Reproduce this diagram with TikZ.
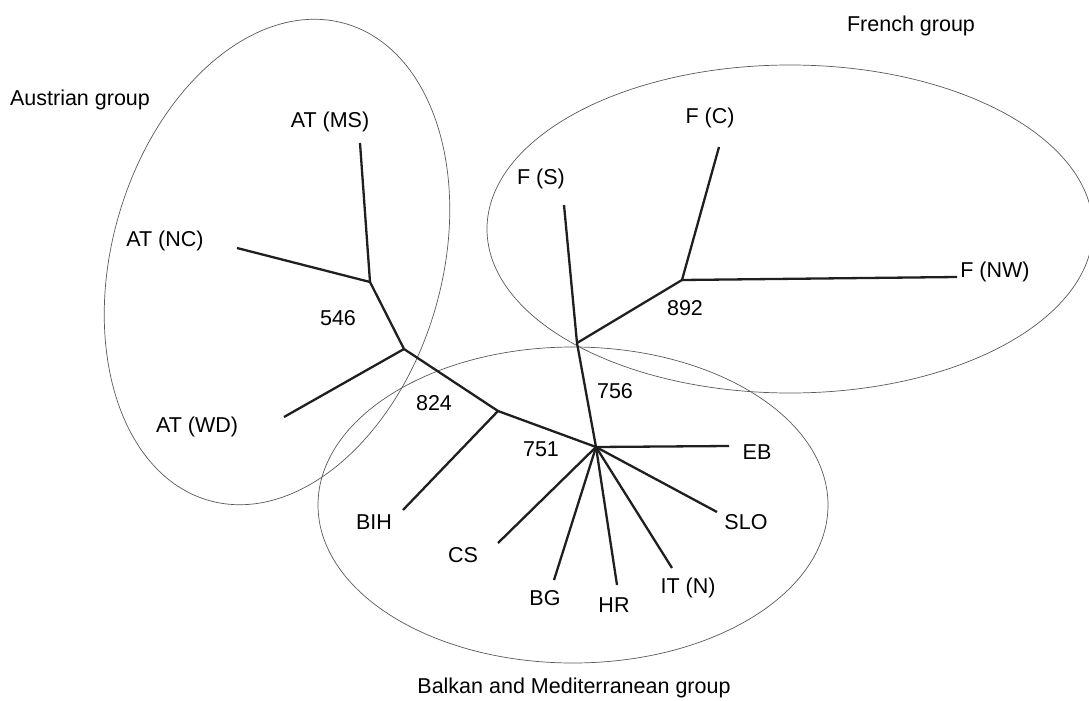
\documentclass[tikz,border=0pt]{standalone}
\usepackage{fontspec}
\setmainfont{Liberation Sans}
\begin{document}
\begin{tikzpicture}[x=1pt,y=-1pt,
  lbl/.style={inner sep=0pt,font=\fontsize{21.5}{25}\selectfont},
  branch/.style={line width=2.3pt,black!88},
  grp/.style={line width=0.7pt,black!65}]
\useasboundingbox (0,0) rectangle (1089,701);
% group outlines
\draw[grp,rotate around={-16:(277,262)}] (277,262) ellipse [x radius=165pt,y radius=248pt];
\draw[grp] (790,229) ellipse [x radius=303pt,y radius=164pt];
\draw[grp] (573,505) ellipse [x radius=255pt,y radius=158pt];
% group labels
\node[lbl] (gaus) at (80,100) {Austrian group};
\node[lbl] (gfr) at (911,26) {French group};
\node[lbl] (gbal) at (574,688) {Balkan and Mediterranean group};
% internal vertices
\coordinate (A) at (370,282);
\coordinate (B) at (404,349);
\coordinate (C) at (498,411);
\coordinate (D) at (596,447);
\coordinate (E) at (577,343);
\coordinate (G) at (682,280);
% leaf ends
\coordinate (ms) at (360,143);
\coordinate (nc) at (237,248);
\coordinate (wd) at (284,417);
\coordinate (bih) at (403,510);
\coordinate (cs) at (498,543);
\coordinate (bg) at (554,580);
\coordinate (hr) at (617,585);
\coordinate (it) at (672,568);
\coordinate (slo) at (717,512);
\coordinate (eb) at (729,446);
\coordinate (fs) at (564,205);
\coordinate (fc) at (719,147);
\coordinate (fnw) at (957,277);
% leaf labels
\node[lbl] (Lms) at (330,122) {AT (MS)};
\node[lbl] (Lnc) at (165,241) {AT (NC)};
\node[lbl] (Lwd) at (197,427) {AT (WD)};
\node[lbl] (Lbih) at (374,522) {BIH};
\node[lbl] (Lcs) at (463,555) {CS};
\node[lbl] (Lbg) at (545,598) {BG};
\node[lbl] (Lhr) at (614,605) {HR};
\node[lbl] (Lit) at (688,588) {IT (N)};
\node[lbl] (Lslo) at (746,522) {SLO};
\node[lbl] (Leb) at (757,452) {EB};
\node[lbl] (Lfs) at (541,179) {F (S)};
\node[lbl] (Lfc) at (710,118) {F (C)};
\node[lbl] (Lfnw) at (995,272) {F (NW)};
% branch values
\node[lbl] (v546) at (338,318) {546};
\node[lbl] (v824) at (434,403) {824};
\node[lbl] (v751) at (541,449) {751};
\node[lbl] (v756) at (615,391) {756};
\node[lbl] (v892) at (685,308) {892};
% tree
\draw[branch] (ms) -- (A);
\draw[branch] (nc) -- (A);
\draw[branch] (A) -- (B);
\draw[branch] (wd) -- (B);
\draw[branch] (B) -- (C);
\draw[branch] (bih) -- (C);
\draw[branch] (C) -- (D);
\draw[branch] (D) -- (cs);
\draw[branch] (D) -- (bg);
\draw[branch] (D) -- (hr);
\draw[branch] (D) -- (it);
\draw[branch] (D) -- (slo);
\draw[branch] (D) -- (eb);
\draw[branch] (D) -- (E);
\draw[branch] (E) -- (fs);
\draw[branch] (E) -- (G);
\draw[branch] (G) -- (fc);
\draw[branch] (G) -- (fnw);
\end{tikzpicture}
\end{document}
